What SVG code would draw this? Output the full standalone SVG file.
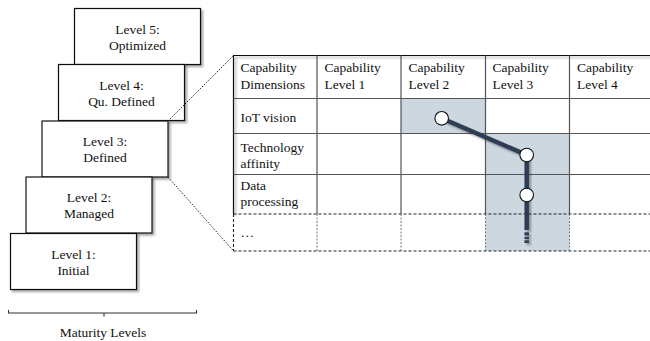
<svg xmlns="http://www.w3.org/2000/svg" width="650" height="341" viewBox="0 0 650 341" font-family="'Liberation Serif', serif" font-size="13.5">
<defs>
<filter id="sh" x="-10%" y="-10%" width="130%" height="130%">
<feDropShadow dx="2" dy="2" stdDeviation="1.2" flood-color="#000" flood-opacity="0.35"/>
</filter>
<style>
text{font-family:'Liberation Serif',serif;font-size:13.5px;fill:#111}
.box{fill:#fff;stroke:#111;stroke-width:1.2}
.lvl text{text-anchor:middle}
.grid{stroke:#555;stroke-width:1.2;fill:none}
.outer{stroke:#111;stroke-width:1.2;fill:none}
.dash{stroke:#222;stroke-width:1.1;stroke-dasharray:3,2;fill:none}
.dashg{stroke:#777;stroke-width:1;stroke-dasharray:2,1.5;fill:none}
.dot{stroke:#222;stroke-width:1;stroke-dasharray:1.5,1.5;fill:none}
.shade{fill:#cdd7e0}
.path{stroke:#2e3c52;stroke-width:4.5;fill:none}
.node{fill:#fff;stroke:#111;stroke-width:1.1}
</style>
</defs>

<g id="level5" class="lvl"><rect class="box" filter="url(#sh)" x="74.5" y="8.5" width="126" height="56"/><text x="137.5" y="33.5">Level 5:</text><text x="137.5" y="49.5">Optimized</text></g>
<g id="level4" class="lvl"><rect class="box" filter="url(#sh)" x="58.5" y="64.5" width="126" height="56"/><text x="121.5" y="89.5">Level 4:</text><text x="121.5" y="105.5">Qu. Defined</text></g>
<g id="level3" class="lvl"><rect class="box" filter="url(#sh)" x="42" y="121" width="126" height="56"/><text x="105" y="146">Level 3:</text><text x="105" y="162">Defined</text></g>
<g id="level2" class="lvl"><rect class="box" filter="url(#sh)" x="26" y="177" width="126" height="56"/><text x="89" y="202">Level 2:</text><text x="89" y="218">Managed</text></g>
<g id="level1" class="lvl"><rect class="box" filter="url(#sh)" x="10.5" y="233.5" width="126" height="56"/><text x="73.5" y="258.5">Level 1:</text><text x="73.5" y="274.5">Initial</text></g>

<g id="bracket">
<path d="M8.5,310 V313 H196.5 V310 M104,313 V316.5" stroke="#333" stroke-width="1.1" fill="none"/>
<text x="103" y="337" text-anchor="middle">Maturity Levels</text>
</g>

<g id="table">
<rect class="shade" x="401" y="98.5" width="84.5" height="35"/>
<rect class="shade" x="485.5" y="133.5" width="84" height="117.5"/>
<g filter="url(#sh)">
<path class="outer" d="M233.5,214 V55.5 H660"/>
</g>
<path class="grid" d="M233.5,98.5 H660 M233.5,133.5 H660 M233.5,174.5 H660 M317,55.5 V214 M401,55.5 V214 M485.5,55.5 V214 M569.5,55.5 V214"/>
<path class="dash" d="M233.5,214 H660 M233.5,251 H660 M233.5,214 V251"/>
<path class="dashg" d="M317,214 V251 M401,214 V251 M485.5,214 V251 M569.5,214 V251"/>
<text x="240.5" y="72">Capability</text><text x="240.5" y="88.5">Dimensions</text>
<text x="324.5" y="72">Capability</text><text x="324.5" y="88.5">Level 1</text>
<text x="408.5" y="72">Capability</text><text x="408.5" y="88.5">Level 2</text>
<text x="492.5" y="72">Capability</text><text x="492.5" y="88.5">Level 3</text>
<text x="577" y="72">Capability</text><text x="577" y="88.5">Level 4</text>
<text x="240.5" y="121.5">IoT vision</text>
<text x="240.5" y="151.5">Technology</text><text x="240.5" y="168">affinity</text>
<text x="240.5" y="190">Data</text><text x="240.5" y="206">processing</text>
<text x="240.5" y="237">…</text>
</g>

<g id="connectors">
<path class="dot" d="M168,121 L233.5,55.5 M168,177 L233.5,251"/>
<g filter="url(#sh)">
<path class="path" d="M441.7,118.3 L526.7,155 V230"/>
<path class="path" d="M526.7,232.3 V235.5 M526.7,236.7 V239.2 M526.7,240.3 V243"/>
</g>
</g>

<g id="path-nodes">
<circle class="node" cx="441.7" cy="118.3" r="6.8"/>
<circle class="node" cx="526.7" cy="155" r="6.8"/>
<circle class="node" cx="526.7" cy="195" r="6.8"/>
</g>
</svg>
